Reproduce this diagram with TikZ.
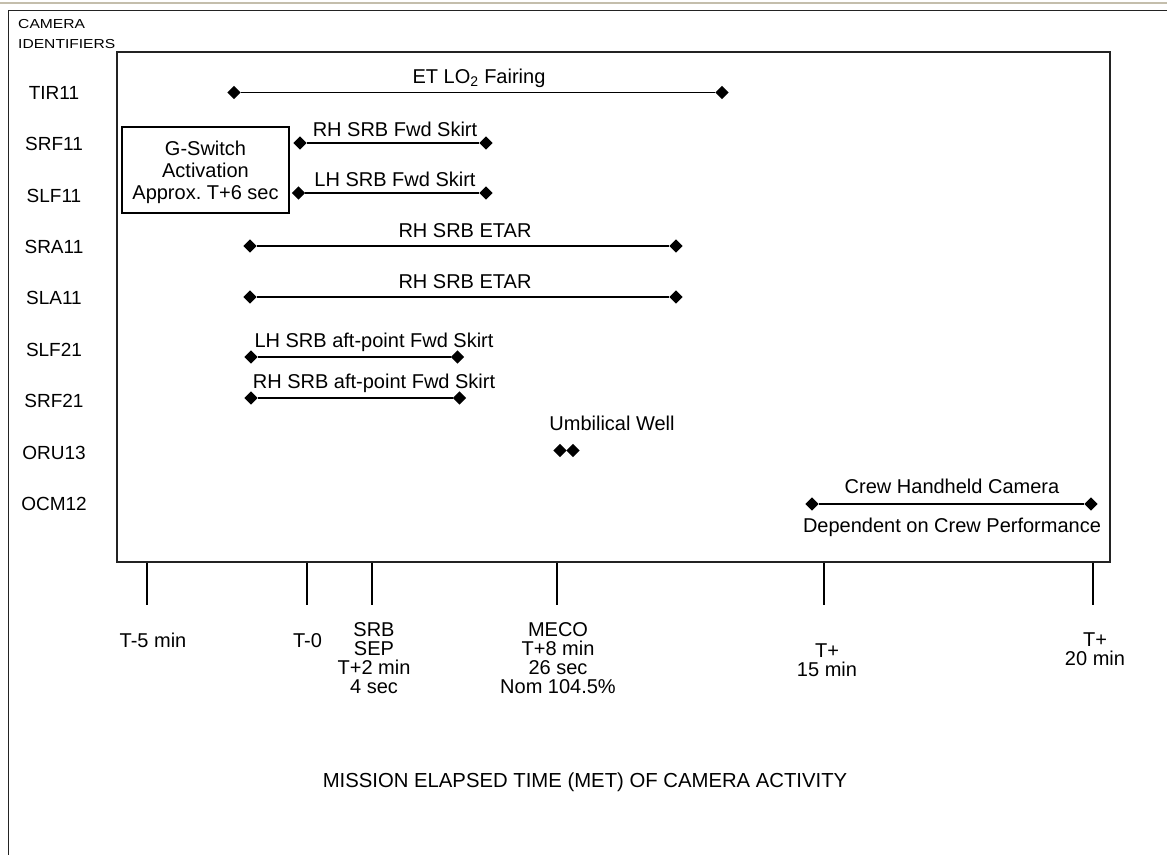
\documentclass[tikz,border=0pt]{standalone}
\usepackage{fontspec}
\setmainfont{Liberation Sans}
\usepackage{tikz}
\usetikzlibrary{shapes.geometric, positioning}
\definecolor{mydark}{RGB}{35,35,35}
\definecolor{myrule}{RGB}{196,190,172}
\tikzset{
  camlabel/.style={anchor=base, inner sep=0pt, font=\fontsize{19}{23}\selectfont},
  barlabel/.style={anchor=base, inner sep=0pt, font=\fontsize{20}{24}\selectfont},
  timelabel/.style={anchor=base, align=center, inner sep=0pt,
    font=\fontsize{20}{18.7}\selectfont},
  hdrlabel/.style={anchor=base west, inner sep=0pt, xscale=1.2, font=\fontsize{13}{15}\selectfont},
  dmd/.style={diamond, fill=black, inner sep=0pt, minimum width=13.5pt, minimum height=13.5pt},
  bar/.style={line width=1.3pt, color=black},
  tickline/.style={line width=1.2pt, color=black},
  frame/.style={line width=1.5pt, draw=mydark}
}

\begin{document}
\begin{tikzpicture}[x=1pt, y=-1pt]
  \useasboundingbox (0,0) rectangle (1167,855);
  \fill[white] (0,0) rectangle (1167,855);

  % Page rules
  \draw[line width=2pt, color=myrule] (0,2.5) -- (1167,2.5);
  \draw[frame] (1167,10.5) -- (8.5,10.5) -- (8.5,855);

  % Plot frame
  \node[frame, rectangle, minimum width=993pt, minimum height=510pt, inner sep=0pt] (plot) at (613.5,307) {};

  % Camera identifiers
  \node[hdrlabel] (camhdr) at (18,28.5) {CAMERA};
  \node[hdrlabel] (idhdr) at (18,48.5) {IDENTIFIERS};
  \node[camlabel] (tir) at (54,99.5) {TIR11};
  \node[camlabel] (srf) at (54,150.5) {SRF11};
  \node[camlabel] (slf) at (54,202) {SLF11};
  \node[camlabel] (sra) at (54,253) {SRA11};
  \node[camlabel] (sla) at (54,304.5) {SLA11};
  \node[camlabel] (slfb) at (54,356) {SLF21};
  \node[camlabel] (srfb) at (54,407) {SRF21};
  \node[camlabel] (oru) at (54,459) {ORU13};
  \node[camlabel] (ocm) at (54,510) {OCM12};

  % G-Switch note
  \node[draw, rectangle, line width=1.2pt, minimum width=167pt, minimum height=86pt, align=center,
    text depth=0pt, font=\fontsize{20}{22}\selectfont] (gsw) at (205.5,170)
    {G-Switch\\Activation\\Approx.\ T+6 sec};

  % TIR11
  \node[dmd] (tirL) at (234,92.5) {};
  \node[dmd] (tirR) at (722,92.5) {};
  \draw[bar] (tirL) -- (tirR);
  \node[barlabel] (tirT) at (479,83) {ET LO\textsubscript{2} Fairing};

  % SRF11 / SLF11
  \node[dmd] (srfL) at (300,143) {};
  \node[dmd] (srfR) at (486,143) {};
  \draw[bar] (srfL) -- (srfR);
  \node[barlabel] (srfT) at (395,136.5) {RH SRB Fwd Skirt};
  \node[dmd] (slfL) at (298.5,193) {};
  \node[dmd] (slfR) at (486,193) {};
  \draw[bar] (slfL) -- (slfR);
  \node[barlabel] (slfT) at (395,186.5) {LH SRB Fwd Skirt};

  % SRA11 / SLA11
  \node[dmd] (sraL) at (250,246) {};
  \node[dmd] (sraR) at (676,246) {};
  \draw[bar] (sraL) -- (sraR);
  \node[barlabel] (sraT) at (465,237) {RH SRB ETAR};
  \node[dmd] (slaL) at (250,297) {};
  \node[dmd] (slaR) at (676,297) {};
  \draw[bar] (slaL) -- (slaR);
  \node[barlabel] (slaT) at (465,288) {RH SRB ETAR};

  % SLF21 / SRF21
  \node[dmd] (slfbL) at (251,357) {};
  \node[dmd] (slfbR) at (457.5,357) {};
  \draw[bar] (slfbL) -- (slfbR);
  \node[barlabel] (slfbT) at (374,347.5) {LH SRB aft-point Fwd Skirt};
  \node[dmd] (srfbL) at (251,398) {};
  \node[dmd] (srfbR) at (459.5,398) {};
  \draw[bar] (srfbL) -- (srfbR);
  \node[barlabel] (srfbT) at (374,388) {RH SRB aft-point Fwd Skirt};

  % ORU13
  \node[dmd] (oruA) at (560,450.5) {};
  \node[dmd] (oruB) at (573,450.5) {};
  \node[barlabel] (oruT) at (612,430) {Umbilical Well};

  % OCM12
  \node[dmd] (ocmL) at (812,504) {};
  \node[dmd] (ocmR) at (1091,504) {};
  \draw[bar] (ocmL) -- (ocmR);
  \node[barlabel] (ocmT) at (952,493) {Crew Handheld Camera};
  \node[barlabel] (ocmB) at (952,532) {Dependent on Crew Performance};

  % Time ticks
  \coordinate (tkA) at (147,605);
  \coordinate (tkB) at (307,605);
  \coordinate (tkC) at (372,605);
  \coordinate (tkD) at (557,605);
  \coordinate (tkE) at (824,605);
  \coordinate (tkF) at (1093,605);
  \foreach \t in {tkA,tkB,tkC,tkD,tkE,tkF}
    \draw[tickline] (\t |- plot.south) -- (\t);

  % Time labels (base = last line)
  \node[timelabel] (lbA) at (153,647) {T-5 min};
  \node[timelabel] (lbB) at (307.5,647) {T-0};
  \node[timelabel] (lbC) at (374,693) {SRB\\SEP\\T+2 min\\4 sec};
  \node[timelabel] (lbD) at (558,693) {MECO\\T+8 min\\26 sec\\Nom 104.5\%};
  \node[timelabel] (lbE) at (827,676.5) {T+\\15 min};
  \node[timelabel] (lbF) at (1095,665.5) {T+\\20 min};

  % Axis title
  \node[barlabel, font=\fontsize{20.3}{24}\selectfont] (met) at (585,787) {MISSION ELAPSED TIME (MET) OF CAMERA ACTIVITY};
\end{tikzpicture}
\end{document}
